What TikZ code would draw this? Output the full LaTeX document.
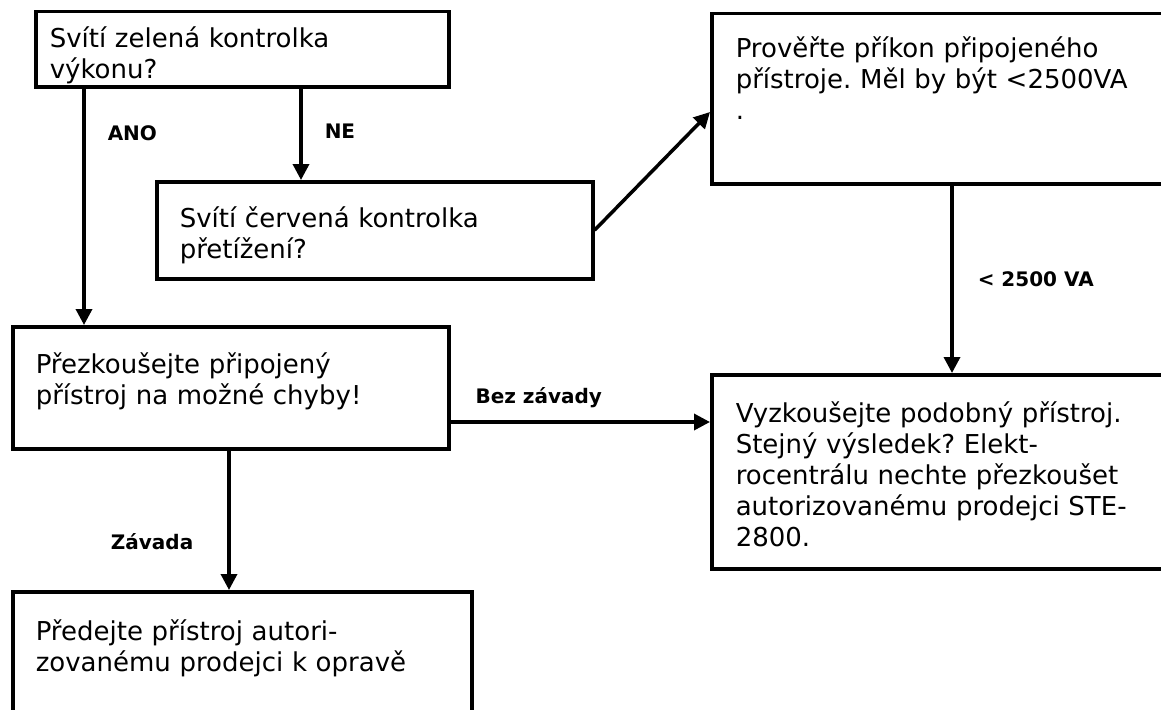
\documentclass[tikz,border=0pt]{standalone}
\usepackage{fontspec}
\setmainfont{DejaVu Sans}
\usepackage{tikz}
\usetikzlibrary{arrows.meta, positioning}
\frenchspacing

\begin{document}
\begin{tikzpicture}
[x=1pt, y=-1pt,
baseshape/.style={draw=black, line width=3.5pt, anchor=north west, align=left, inner ysep=0pt, font=\fontsize{26}{31}\selectfont},
process/.style={baseshape, rectangle},
arrow/.style={line width=3.5pt, -{Triangle[length=16pt, width=16pt]}},
lbl/.style={font=\fontsize{20}{24}\selectfont\bfseries, inner sep=0pt},]
    \useasboundingbox (0,0) rectangle (1161,709);
    \clip (0,0) rectangle (1161,709);
    \node (green) [process, text width=385pt, inner xsep=14pt, text height=36pt, text depth=39pt] at (34,10) {Svítí zelená kontrolka\\výkonu?};
    \node (red) [process, text width=390pt, inner xsep=23pt, text height=46pt, text depth=51pt] at (155,180) {Svítí červená kontrolka\\přetížení?};
    \node (power) [process, text width=432pt, inner xsep=24pt, text height=44pt, text depth=126pt] at (710,12) {Prověřte příkon připojeného\\přístroje. Měl by být <2500VA\\.};
    \node (check) [process, text width=390pt, inner xsep=23pt, text height=47pt, text depth=75pt] at (11,325) {Přezkoušejte připojený\\přístroj na možné chyby!};
    \node (similar) [process, text width=432pt, inner xsep=24pt, text height=48pt, text depth=146pt] at (710,373) {Vyzkoušejte podobný přístroj.\\Stejný výsledek? Elekt-\\rocentrálu nechte přezkoušet\\autorizovanému prodejci STE-\\2800.};
    \node (repair) [process, text width=413pt, inner xsep=23pt, text height=49pt, text depth=111pt] at (11,590) {Předejte přístroj autori-\\zovanému prodejci k opravě};
    \draw[arrow] ([xshift=50pt]green.south west) -- node[lbl, pos=0.19, right=22pt]{ANO} ([xshift=50pt]green.south west |- check.north);
    \draw[arrow] ([xshift=267pt]green.south west) -- node[lbl, pos=0.47, right=22pt]{NE} ([xshift=267pt]green.south west |- red.north);
    \draw[arrow] (red.east) -- ([yshift=-100pt]power.north west);
    \draw[arrow] ([xshift=242pt]power.south west) -- node[lbl, pos=0.5, right=24pt]{< 2500 VA} ([xshift=242pt]power.south west |- similar.north);
    \draw[arrow] ([yshift=-97pt]check.north east) -- node[lbl, pos=0.34, above=12pt]{Bez závady} ([yshift=-97pt]check.north east -| similar.west);
    \draw[arrow] ([xshift=218pt]check.south west) -- node[lbl, pos=0.65, left=34pt]{Závada} ([xshift=218pt]check.south west |- repair.north);
\end{tikzpicture}
\end{document}
